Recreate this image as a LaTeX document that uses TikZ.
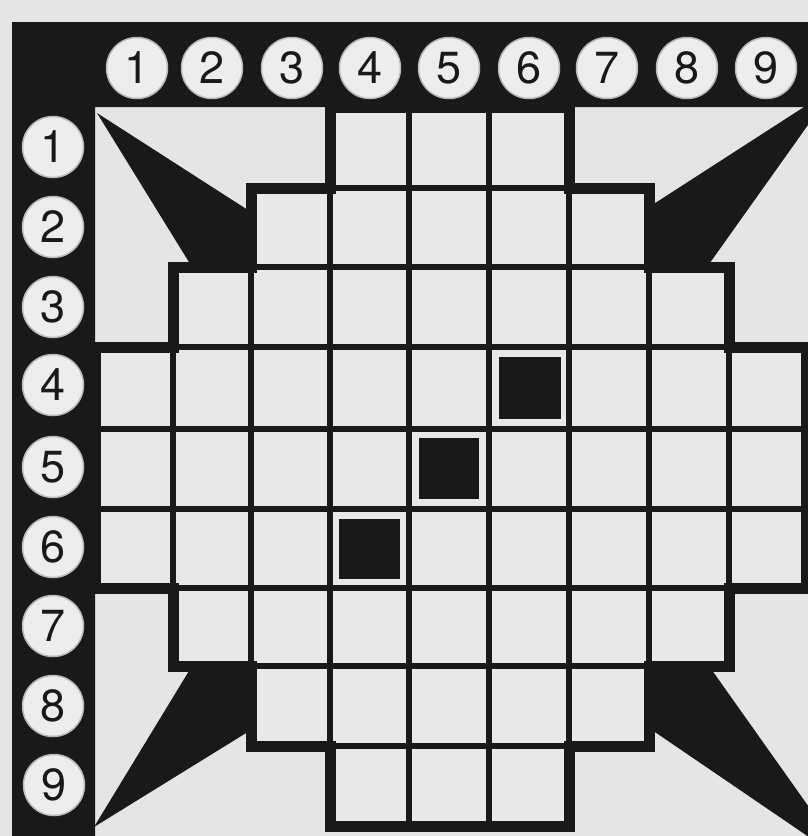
\documentclass[tikz,border=0pt]{standalone}
\usepackage{fontspec}
\setmainfont{TeX Gyre Heros}
\definecolor{paper}{gray}{0.9}
\definecolor{ink}{gray}{0.1}
\definecolor{cellc}{gray}{0.91}
\definecolor{disc}{gray}{0.93}
\begin{document}
\begin{tikzpicture}[x=1pt,y=-1pt,
  innerline/.style={line width=5.5pt, draw=ink},
  outerline/.style={line width=11pt, draw=ink, line join=miter},
  numdisc/.style={circle, minimum size=61pt, inner sep=0pt, fill=disc, draw=gray!55, line width=1.5pt,
    font=\fontsize{45}{45}\selectfont, text=ink},
  blk/.style={fill=ink},
]
\useasboundingbox (0,0) rectangle (808,836);
\clip (0,0) rectangle (808,836);
\fill[paper] (0,0) rectangle (808,836);

% board shape
\def\board{(330,107) -- (569,107) -- (569,188) -- (649,188) -- (649,267) -- (729,267) -- (729,347) -- (806,347) -- (806,588) -- (729,588) -- (729,666) -- (649,666) -- (649,746) -- (569,746) -- (569,826) -- (330,826) -- (330,746) -- (251,746) -- (251,666) -- (173,666) -- (173,588) -- (95,588) -- (95,347) -- (173,347) -- (173,267) -- (251,267) -- (251,188) -- (330,188) -- cycle}

\fill[cellc] \board;
\begin{scope}
  \clip \board;
  \foreach \x in {173,251,330,409,489,569,649,729} \draw[innerline] (\x,100) -- (\x,836);
  \foreach \y in {188,267,347,429,509,588,666,746} \draw[innerline] (90,\y) -- (808,\y);
\end{scope}

% dark squares
\fill[blk] (499,357) rectangle (561,419);
\fill[blk] (419,438) rectangle (479,499);
\fill[blk] (339,519) rectangle (400,579);

% corner wedges
\fill[blk] (97,113) -- (251,212) -- (251,267) -- (192,267) -- cycle;
\fill[blk] (835,87) -- (649,207) -- (649,267) -- (707,267) -- cycle;
\fill[blk] (94,827) -- (192,666) -- (251,666) -- (251,730) -- cycle;
\fill[blk] (850,865) -- (649,728) -- (649,666) -- (709,666) -- cycle;

% outline
\draw[outerline] \board;

% frame band
\fill[blk] (12,22) -- (808,22) -- (808,107) -- (95,107) -- (95,836) -- (12,836) -- cycle;

% column numbers
\node[numdisc] (c1) at (137,68) {1};
\node[numdisc] (c2) at (212,68) {2};
\node[numdisc] (c3) at (292,68) {3};
\node[numdisc] (c4) at (370,68) {4};
\node[numdisc] (c5) at (449,68) {5};
\node[numdisc] (c6) at (529,68) {6};
\node[numdisc] (c7) at (607,68) {7};
\node[numdisc] (c8) at (687,68) {8};
\node[numdisc] (c9) at (766,68) {9};

% row numbers
\node[numdisc] (r1) at (53,147) {1};
\node[numdisc] (r2) at (53,227) {2};
\node[numdisc] (r3) at (53,307) {3};
\node[numdisc] (r4) at (53,385) {4};
\node[numdisc] (r5) at (53,467) {5};
\node[numdisc] (r6) at (53,547) {6};
\node[numdisc] (r7) at (53,626) {7};
\node[numdisc] (r8) at (53,706) {8};
\node[numdisc] (r9) at (54,785) {9};
\end{tikzpicture}
\end{document}
